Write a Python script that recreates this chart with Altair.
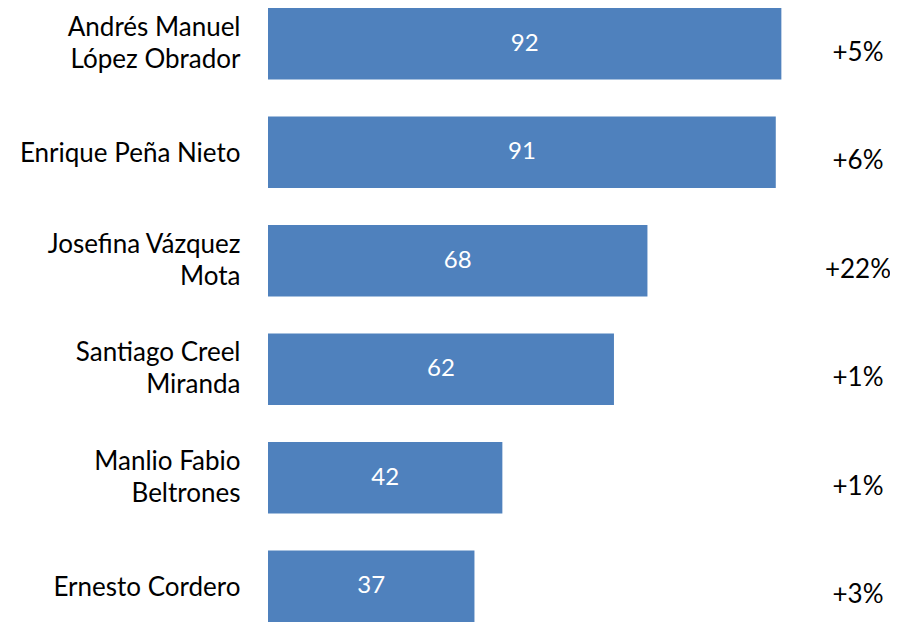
import altair as alt
import pandas as pd

names = ["Andrés Manuel|López Obrador", "Enrique Peña Nieto", "Josefina Vázquez|Mota",
         "Santiago Creel|Miranda", "Manlio Fabio|Beltrones", "Ernesto Cordero"]
values = [92, 91, 68, 62, 42, 37]
changes = ["+5%", "+6%", "+22%", "+1%", "+1%", "+3%"]

df = pd.DataFrame({"name": names, "value": values, "change": changes})
df["half"] = df["value"] / 2

y_enc = alt.Y(
    "name:N", sort=names,
    scale=alt.Scale(paddingInner=0.341, paddingOuter=0),
    axis=alt.Axis(title=None, ticks=False, domain=False,
                  labelExpr="split(datum.label, '|')",
                  labelFont="Lato", labelFontSize=26, labelColor="black",
                  labelPadding=28, labelLineHeight=32, labelLimit=0,
                  labelOffset={"condition": {"test": "indexof(datum.label, '|') >= 0", "value": -16},
                               "value": 2}),
)
x_scale = alt.Scale(domain=[0, 100], nice=False)

base = alt.Chart(df)
bars = base.mark_bar(color="#4F81BD").encode(
    x=alt.X("value:Q", scale=x_scale, axis=None),
    y=y_enc,
)
inner = base.mark_text(color="white", fontSize=24, font="Lato").encode(
    x=alt.X("half:Q", scale=x_scale, axis=None),
    y=alt.Y("name:N", sort=names),
    text="value:Q",
)
right = base.mark_text(color="black", fontSize=26, font="Lato", dy=9).encode(
    x=alt.value(590),
    y=alt.Y("name:N", sort=names),
    text="change:N",
)

chart = alt.layer(bars, inner, right).properties(
    width=558, height=614,
    autosize=alt.AutoSizeParams(type="none"),
    padding={"left": 260, "top": 0, "right": 64, "bottom": 0},
).configure_view(stroke=None)

chart.save("out.html", embed_options={"renderer": "svg", "actions": False})
